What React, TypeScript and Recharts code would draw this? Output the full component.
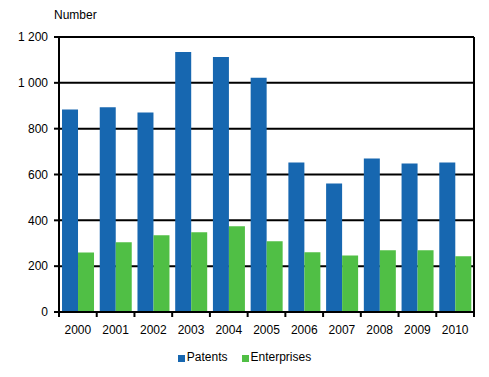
import React from "react";
import {
  BarChart,
  Bar,
  XAxis,
  YAxis,
  CartesianGrid,
  Legend,
} from "recharts";

const YEARS = ["2000", "2001", "2002", "2003", "2004", "2005", "2006", "2007", "2008", "2009", "2010"];
const PATENTS = [884, 893, 871, 1135, 1113, 1022, 652, 561, 670, 648, 652];
const ENTERPRISES = [260, 304, 335, 348, 374, 309, 261, 247, 269, 269, 243];
const Y_TICKS = [0, 200, 400, 600, 800, 1000, 1200];

const BLUE = "#1767b0";
const GREEN = "#50bf45";
const FONT = "'Liberation Sans', Arial, sans-serif";

const W = 489;
const H = 377;
const LEFT = 59;
const RIGHT = 15;
const PLOT_W = W - LEFT - RIGHT;

const data = YEARS.map((y, i) => ({
  year: y,
  Patents: PATENTS[i],
  Enterprises: ENTERPRISES[i],
}));

const fmt = (v: number) => String(v).replace(/\B(?=(\d{3})+(?!\d))/g, " ");

function YearTick(props: any) {
  const { x, y, payload, index } = props;
  const band = PLOT_W / YEARS.length;
  const last = index === YEARS.length - 1;
  return (
    <g>
      <line x1={x - band / 2} x2={x - band / 2} y1={y} y2={y + 5} stroke="#000" strokeWidth={2} />
      {last && <line x1={x + band / 2} x2={x + band / 2} y1={y} y2={y + 5} stroke="#000" strokeWidth={2} />}
      <text x={x} y={y + 22} textAnchor="middle" fontSize={12} fontFamily={FONT} fill="#000">
        {payload.value}
      </text>
    </g>
  );
}

function LegendContent() {
  const items = [
    { name: "Patents", color: BLUE },
    { name: "Enterprises", color: GREEN },
  ];
  return (
    <div style={{ display: "flex", justifyContent: "center", gap: 14, marginTop: 8, fontFamily: FONT, fontSize: 12, color: "#000" }}>
      {items.map((it) => (
        <span key={it.name} style={{ display: "flex", alignItems: "center" }}>
          <span style={{ width: 7, height: 7, background: it.color, marginRight: 2, marginTop: 2 }} />
          {it.name}
        </span>
      ))}
    </div>
  );
}

export default function App() {
  return (
    <div style={{ position: "absolute", left: 0, top: 0, width: W, height: H, background: "#fff" }}>
      <div style={{ position: "absolute", left: 54, top: 8, fontFamily: FONT, fontSize: 12, color: "#000" }}>
        Number
      </div>
      <BarChart
        width={W}
        height={H}
        data={data}
        margin={{ top: 37, right: 0, bottom: 0, left: 0 }}
        barCategoryGap="8%"
        barGap={0}
      >
        <CartesianGrid vertical={false} stroke="#000" strokeWidth={2} />
        <XAxis
          dataKey="year"
          height={30}
          tickSize={0}
          tickMargin={0}
          tickLine={false}
          axisLine={{ stroke: "#000", strokeWidth: 2 }}
          tick={<YearTick />}
          interval={0}
        />
        <YAxis
          width={LEFT}
          domain={[0, 1200]}
          ticks={Y_TICKS}
          tickFormatter={fmt}
          tickSize={5}
          tickMargin={6}
          tickLine={{ stroke: "#000", strokeWidth: 2 }}
          axisLine={{ stroke: "#000", strokeWidth: 2 }}
          tick={{ fontSize: 12, fontFamily: FONT, fill: "#000" }}
        />
        <YAxis
          yAxisId="r"
          orientation="right"
          width={RIGHT}
          tick={false}
          tickLine={false}
          axisLine={{ stroke: "#000", strokeWidth: 2 }}
        />
        <Legend verticalAlign="bottom" height={35} content={<LegendContent />} />
        <Bar dataKey="Patents" fill={BLUE} isAnimationActive={false} />
        <Bar dataKey="Enterprises" fill={GREEN} isAnimationActive={false} />
      </BarChart>
    </div>
  );
}
